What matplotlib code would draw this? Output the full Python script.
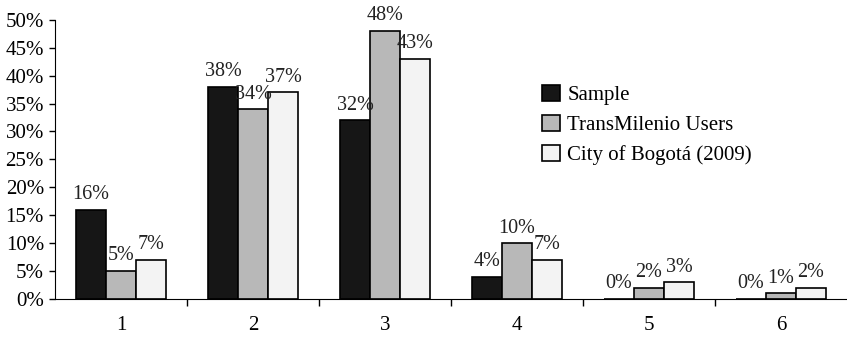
import numpy as np
import matplotlib
matplotlib.use("Agg")
import matplotlib.pyplot as plt
from matplotlib.ticker import FixedLocator, FuncFormatter

# Dados
categorias = ["1", "2", "3", "4", "5", "6"]
sample = [16, 38, 32, 4, 0, 0]
transmilenio = [5, 34, 48, 10, 2, 1]
bogota = [7, 37, 43, 7, 3, 2]
series_nomes = ["Sample", "TransMilenio Users", "City of Bogotá (2009)"]
cores = ["#161616", "#b8b8b8", "#f3f3f3"]

plt.rcParams['font.family'] = ['Liberation Serif', 'DejaVu Serif']
plt.rcParams['font.size'] = 15

fig = plt.figure(figsize=(8.47, 3.37), dpi=100)
ax = fig.add_axes([0.065, 0.113, 0.935, 0.828])

x = np.arange(len(categorias))
largura = 0.227
todas = [sample, transmilenio, bogota]

for k, (vals, nome, cor) in enumerate(zip(todas, series_nomes, cores)):
    pos = x + (k - 1) * largura
    barras = ax.bar(pos, vals, width=largura, color=cor, edgecolor='black',
                    linewidth=1.2, label=nome)
    for b, v in zip(barras, vals):
        ax.annotate(f"{v}%", (b.get_x() + b.get_width() / 2, v),
                    xytext=(0, 4), textcoords='offset points',
                    ha='center', va='bottom', fontsize=14.5, color='#222222')

# Eixos
ax.set_xlim(-0.5, len(categorias) - 0.5)
ax.set_ylim(0, 50)
ax.set_yticks(np.arange(0, 51, 5))
ax.yaxis.set_major_formatter(FuncFormatter(lambda v, p: f"{int(v)}%"))
ax.set_xticks(x)
ax.set_xticklabels(categorias)
ax.xaxis.set_minor_locator(FixedLocator(np.arange(0.5, len(categorias) - 0.5, 1)))
ax.tick_params(axis='x', which='major', length=0, pad=12)
ax.tick_params(axis='x', which='minor', length=5, direction='out', width=1)
ax.tick_params(axis='y', length=4, width=1, pad=4)

ax.spines['top'].set_visible(False)
ax.spines['right'].set_visible(False)

# Legenda
ax.legend(loc='upper left', bbox_to_anchor=(0.602, 0.805), frameon=False,
          fontsize=15, handlelength=0.85, handleheight=0.85, handletextpad=0.35,
          labelspacing=0.45, borderpad=0)

plt.savefig("out.png", dpi=100)
